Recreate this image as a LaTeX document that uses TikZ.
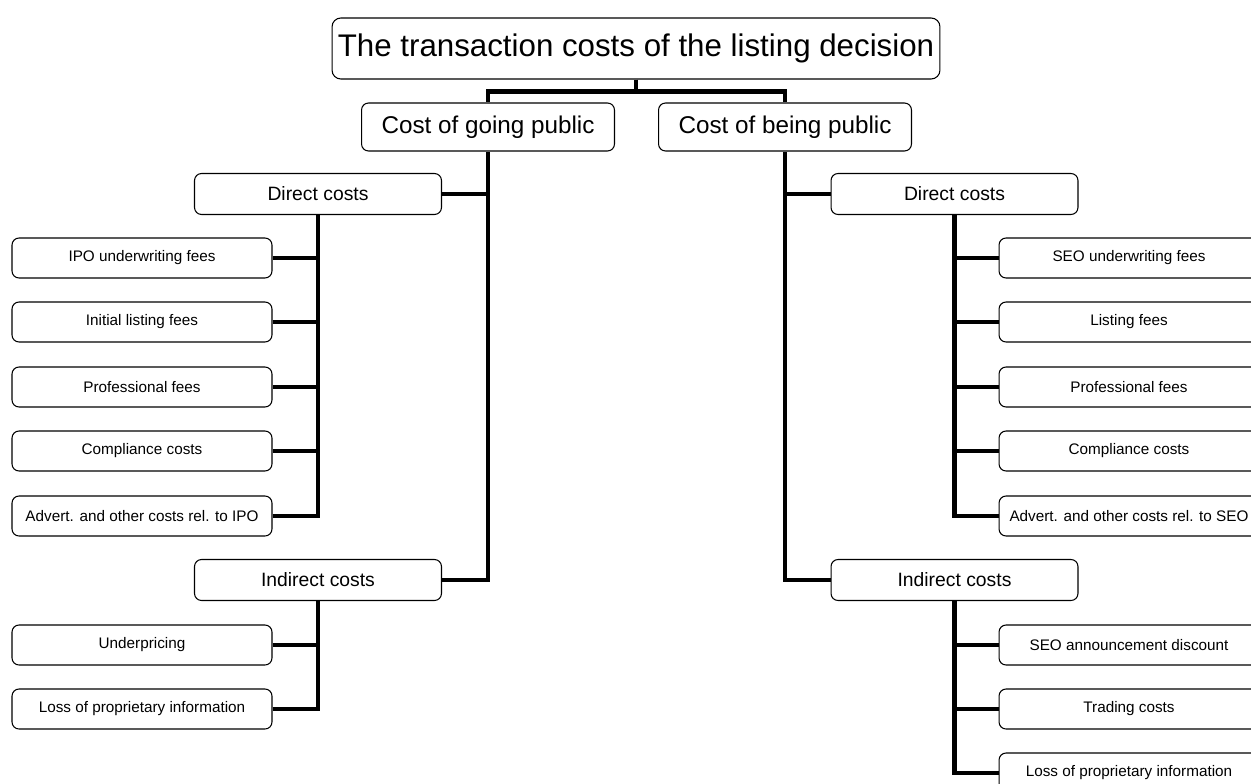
\documentclass[tikz,border=0pt]{standalone}
\usepackage{fontspec}
\setmainfont{Liberation Sans}
\usepackage{tikz}
\usetikzlibrary{positioning}

\begin{document}
\begin{tikzpicture}[
    x=0.02cm, y=-0.02cm,
    title/.style={draw, rounded corners=5pt, line width=0.6pt, minimum width=12.16cm, minimum height=1.22cm, font=\fontsize{17.8}{20}\selectfont, inner sep=0pt},
    branch/.style={draw, rounded corners=4pt, line width=0.6pt, minimum width=5.06cm, minimum height=0.96cm, font=\fontsize{13.8}{16}\selectfont, inner sep=0pt},
    group/.style={draw, rounded corners=4pt, line width=0.6pt, minimum width=4.94cm, minimum height=0.82cm, font=\fontsize{11}{13}\selectfont, inner sep=0pt},
    leaf/.style={draw, rounded corners=4pt, line width=0.6pt, minimum width=5.2cm, minimum height=0.8cm, font=\fontsize{8.7}{10}\selectfont, inner sep=0pt},
    conn/.style={line width=2.4pt}
]

\useasboundingbox[fill=white] (0,0) rectangle (1251,784);
\clip (0,0) rectangle (1251,784);

\node[title] (top) at (636,48.5) {The transaction costs of the listing decision};

\node[branch] (gp) at (488,127) {Cost of going public};
\node[branch] (bp) at (785,127) {Cost of being public};

\draw[conn] (top.south) -- +(0,12) -| (gp.north);
\draw[conn] (top.south) -- +(0,12) -| (bp.north);

% going public
\node[group] (dcl) at (318,194) {Direct costs};
\node[group] (icl) at (318,580) {Indirect costs};

\node[leaf] (l1) at (142,258) {IPO underwriting fees};
\node[leaf] (l2) at (142,322) {Initial listing fees};
\node[leaf] (l3) at (142,387) {Professional fees};
\node[leaf] (l4) at (142,451) {Compliance costs};
\node[leaf] (l5) at (142,516) {Advert. and other costs rel. to IPO};
\node[leaf] (l6) at (142,645) {Underpricing};
\node[leaf] (l7) at (142,709) {Loss of proprietary information};

\draw[conn] (dcl.east) -| (gp.south);
\draw[conn] (icl.east) -| (gp.south);
\draw[conn] (l1.east) -| (dcl.south);
\draw[conn] (l2.east) -| (dcl.south);
\draw[conn] (l3.east) -| (dcl.south);
\draw[conn] (l4.east) -| (dcl.south);
\draw[conn] (l5.east) -| (dcl.south);
\draw[conn] (l6.east) -| (icl.south);
\draw[conn] (l7.east) -| (icl.south);

% being public
\node[group] (dcr) at (954.5,194) {Direct costs};
\node[group] (icr) at (954.5,580) {Indirect costs};

\node[leaf] (r1) at (1129,258) {SEO underwriting fees};
\node[leaf] (r2) at (1129,322) {Listing fees};
\node[leaf] (r3) at (1129,387) {Professional fees};
\node[leaf] (r4) at (1129,451) {Compliance costs};
\node[leaf] (r5) at (1129,516) {Advert. and other costs rel. to SEO};
\node[leaf] (r6) at (1129,645) {SEO announcement discount};
\node[leaf] (r7) at (1129,709) {Trading costs};
\node[leaf] (r8) at (1129,773) {Loss of proprietary information};

\draw[conn] (dcr.west) -| (bp.south);
\draw[conn] (icr.west) -| (bp.south);
\draw[conn] (r1.west) -| (dcr.south);
\draw[conn] (r2.west) -| (dcr.south);
\draw[conn] (r3.west) -| (dcr.south);
\draw[conn] (r4.west) -| (dcr.south);
\draw[conn] (r5.west) -| (dcr.south);
\draw[conn] (r6.west) -| (icr.south);
\draw[conn] (r7.west) -| (icr.south);
\draw[conn] (r8.west) -| (icr.south);

\end{tikzpicture}
\end{document}
